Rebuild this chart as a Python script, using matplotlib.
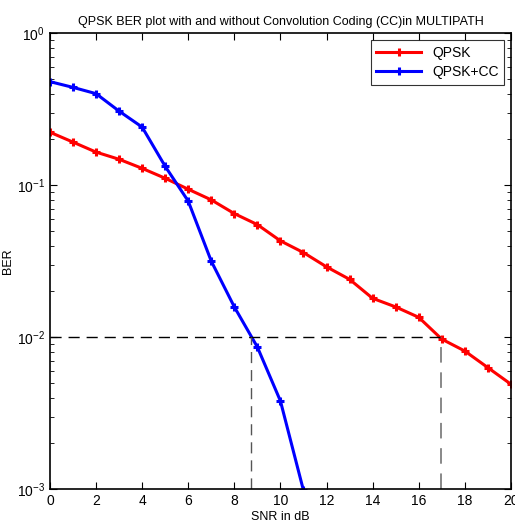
import matplotlib
matplotlib.use("Agg")
import matplotlib.pyplot as plt
from matplotlib.ticker import LogLocator, NullFormatter, FixedLocator

plt.rcParams['font.family'] = ['Liberation Sans', 'DejaVu Sans']

snr = list(range(0, 21))
ber_qpsk = [0.223, 0.192, 0.165, 0.148, 0.129, 0.111, 0.094, 0.080, 0.065, 0.055,
            0.043, 0.036, 0.029, 0.024, 0.018, 0.0158, 0.0135, 0.0097, 0.0081,
            0.0063, 0.0049]
snr_cc = list(range(0, 12))
ber_cc = [0.48, 0.44, 0.40, 0.307, 0.241, 0.133, 0.0785, 0.0316, 0.0158, 0.0086,
          0.0038, 0.00098]
target_ber = 0.01
snr_at_target = [8.72, 16.96]
xticks = list(range(0, 21, 2))

fig = plt.figure(figsize=(5.15, 5.27), dpi=100)
ax = fig.add_axes([0.097, 0.072, 0.895, 0.865])

ax.semilogy(snr, ber_qpsk, color='red', lw=2.2, marker='+', ms=6, mew=2.2, label='QPSK')
ax.semilogy(snr_cc, ber_cc, color='blue', lw=2.2, marker='+', ms=6, mew=2.2, label='QPSK+CC')

ax.plot([0, snr_at_target[1]], [target_ber, target_ber], color='black', lw=1, dashes=(8, 5))
ax.plot([snr_at_target[0], snr_at_target[0]], [1e-3, target_ber], color='#555555', lw=1, dashes=(8, 5))
ax.plot([snr_at_target[1], snr_at_target[1]], [1e-3, target_ber], color='#888888', lw=1.4, dashes=(8, 5))

ax.set_xlim(0, 20)
ax.set_ylim(1e-3, 1)
ax.set_xticks(xticks)
ax.set_xticklabels([str(t) for t in xticks])
ax.yaxis.set_major_locator(FixedLocator([1e-3, 1e-2, 1e-1, 1]))
ax.yaxis.set_minor_locator(LogLocator(base=10, subs=range(2, 10)))
ax.yaxis.set_minor_formatter(NullFormatter())
ax.tick_params(which='both', direction='in', top=True, right=True, labelsize=10)
ax.tick_params(which='major', length=5)
ax.tick_params(which='minor', length=3)
for s in ax.spines.values():
    s.set_linewidth(1.2)

ax.set_title('QPSK BER plot with and without Convolution Coding (CC)in MULTIPATH', fontsize=9, pad=6)
ax.set_xlabel('SNR in dB', fontsize=9, labelpad=2)
ax.set_ylabel('BER', fontsize=9, labelpad=2)

leg = ax.legend(loc='upper right', fontsize=10, frameon=True, fancybox=False,
                edgecolor='black', handlelength=3.2, borderpad=0.4, labelspacing=0.4)
leg.get_frame().set_linewidth(0.8)

fig.savefig('out.png', dpi=100)
